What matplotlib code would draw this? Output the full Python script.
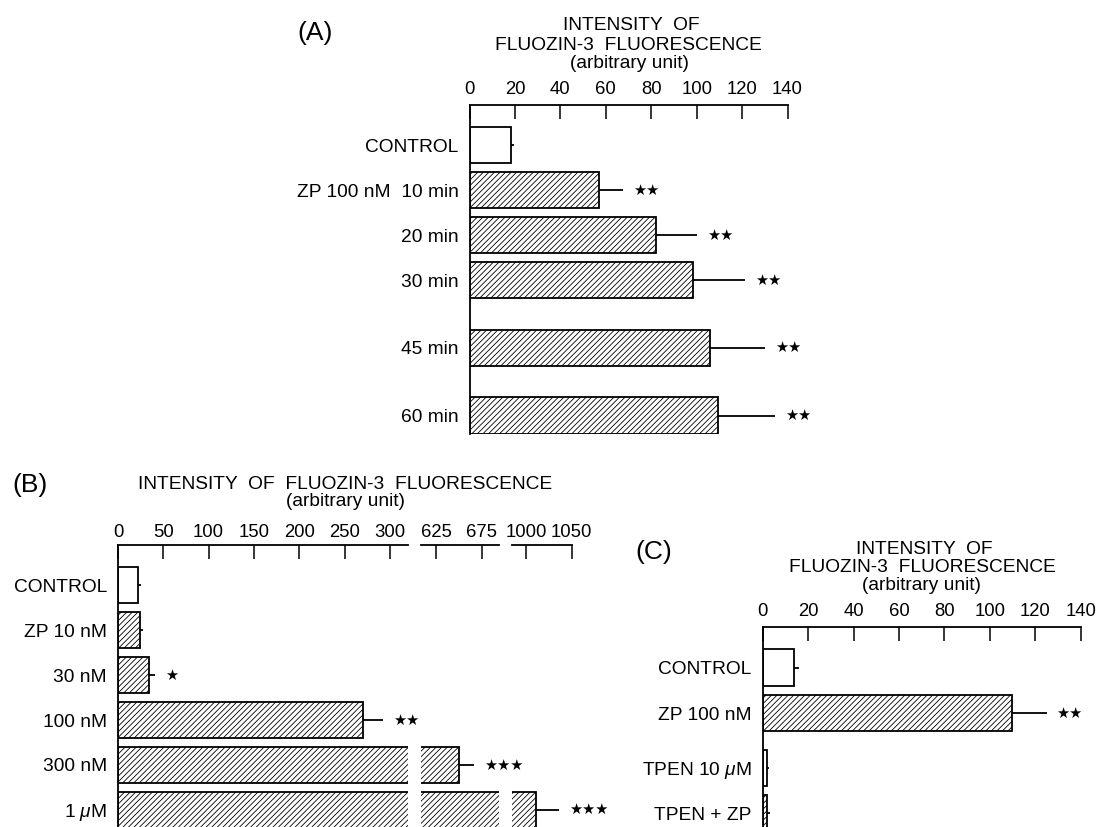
import numpy as np
import matplotlib
matplotlib.use("Agg")
import matplotlib.pyplot as plt

plt.rcParams['font.family'] = ['Liberation Sans', 'DejaVu Sans']
plt.rcParams['mathtext.fontset'] = 'custom'
plt.rcParams['mathtext.rm'] = 'Liberation Sans'
plt.rcParams['mathtext.it'] = 'Liberation Sans:italic'
plt.rcParams['hatch.linewidth'] = 0.6

# ---- data ----
# panel A: time course, ZP 100 nM
a_labels = ['CONTROL', 'ZP 100 nM  10 min', '20 min', '30 min', '45 min', '60 min']
a_pos = [0, 1, 2, 3, 4.5, 6]
a_vals = [18.4, 57.1, 82.1, 98.3, 106.1, 109.3]
a_err = [1.0, 10.6, 18.2, 23.2, 24.2, 25.4]
a_hatch = [False, True, True, True, True, True]
a_stars = ['', '**', '**', '**', '**', '**']
a_ticks = [0, 20, 40, 60, 80, 100, 120, 140]

# panel B: concentration series, broken axis
b_labels = ['CONTROL', 'ZP 10 nM', '30 nM', '100 nM', '300 nM', r'1 $\mu$M']
b_pos = [0, 1, 2, 3, 4, 5]
b_vals = [22, 24.6, 34.6, 270.7, 649.6, 1010.2]
b_err = [3.0, 3.4, 6.2, 22.1, 16.9, 26.0]
b_hatch = [False, True, True, True, True, True]
b_stars = ['', '', '*', '**', '***', '***']
b_segments = [(0, 320), (608, 694), (984, 1050)]
b_ticks = [[0, 50, 100, 150, 200, 250, 300], [625, 675], [1000, 1050]]

# panel C: TPEN
c_labels = ['CONTROL', 'ZP 100 nM', r'TPEN 10 $\mu$M', 'TPEN + ZP']
c_pos = [0, 1, 2.2, 3.2]
c_vals = [13.8, 109.9, 1.8, 1.9]
c_err = [2.2, 15.1, 1.0, 1.1]
c_hatch = [False, True, False, True]
c_stars = ['', '**', '', '']
c_ticks = [0, 20, 40, 60, 80, 100, 120, 140]

W, H = 1099, 827
FS = 13.8      # labels and titles
FS_TICK = 13.3
fig = plt.figure(figsize=(W / 100, H / 100), dpi=100)


def px_axes(x0, x1, y0, y1):
    return fig.add_axes([x0 / W, 1 - y1 / H, (x1 - x0) / W, (y1 - y0) / H])


def ftext(x, y, s, size=FS, ha='center'):
    fig.text(x / W, 1 - y / H, s, ha=ha, va='center', fontsize=size)


def style_axes(ax, left=True, pad=4.5):
    for side in ['bottom', 'right']:
        ax.spines[side].set_visible(False)
    ax.spines['left'].set_visible(left)
    ax.spines['top'].set_linewidth(1.3)
    ax.spines['left'].set_linewidth(1.3)
    ax.xaxis.tick_top()
    ax.tick_params(axis='x', direction='in', length=10, width=1.1,
                   pad=pad, labelsize=FS_TICK)
    ax.tick_params(axis='y', length=0, pad=8, labelsize=FS)
    ax.patch.set_alpha(0)


def draw_bars(ax, pos, vals, err, hatch):
    for p, v, e, h in zip(pos, vals, err, hatch):
        ax.barh(p, v, height=0.8, color='white', edgecolor='black',
                linewidth=1.3, hatch='//////' if h else None, zorder=2)
        ax.errorbar(v, p, xerr=[[0], [e]], fmt='none', ecolor='black',
                    elinewidth=1.3, capsize=0, zorder=1)


def draw_stars(ax, pos, vals, err, stars):
    for p, v, e, s in zip(pos, vals, err, stars):
        if s:
            ax.annotate(s.replace('*', '\u2605'), (v + e, p),
                        xytext=(7, 0), textcoords='offset points',
                        ha='left', va='center', fontsize=10.5,
                        family=['DejaVu Sans'], annotation_clip=False)


# ---- panel A ----
axA = px_axes(469.5, 787.5, 104.5, 434)
draw_bars(axA, a_pos, a_vals, a_err, a_hatch)
draw_stars(axA, a_pos, a_vals, a_err, a_stars)
axA.set_xlim(0, 140)
axA.set_ylim(6.41, -0.9)
axA.set_xticks(a_ticks)
axA.set_yticks(a_pos, a_labels)
style_axes(axA)

ftext(315, 33, '(A)', size=19)
ftext(631, 25, 'INTENSITY  OF')
ftext(628, 45, 'FLUOZIN-3  FLUORESCENCE')
ftext(630, 63, '(arbitrary unit)')

# ---- panel B (broken axis) ----
scale = 0.906  # px per unit
x0 = 118
for i, (lo, hi) in enumerate(b_segments):
    x1 = x0 + (hi - lo) * scale
    ax = px_axes(x0, x1, 544.8, 827)
    draw_bars(ax, b_pos, b_vals, b_err, b_hatch)
    ax.set_xlim(lo, hi)
    ax.set_ylim(5.38, -0.9)
    ax.set_xticks(b_ticks[i])
    if i == 0:
        ax.set_yticks(b_pos, b_labels)
    else:
        ax.set_yticks([])
    style_axes(ax, left=(i == 0), pad=2.5)
    # stars go on the segment where the error bar ends
    sel = [j for j in range(len(b_vals)) if lo <= b_vals[j] + b_err[j] <= hi]
    draw_stars(ax, [b_pos[j] for j in sel], [b_vals[j] for j in sel],
               [b_err[j] for j in sel], [b_stars[j] for j in sel])
    x0 = x1 + 13

ftext(30, 485, '(B)', size=19)
ftext(345, 484.4, 'INTENSITY  OF  FLUOZIN-3  FLUORESCENCE')
ftext(345, 501, '(arbitrary unit)')

# ---- panel C ----
axC = px_axes(762.7, 1080.7, 626.7, 827)
draw_bars(axC, c_pos, c_vals, c_err, c_hatch)
draw_stars(axC, c_pos, c_vals, c_err, c_stars)
axC.set_xlim(0, 140)
axC.set_ylim(3.5, -0.9)
axC.set_xticks(c_ticks)
axC.set_yticks(c_pos, c_labels)
style_axes(axC)

ftext(654, 552, '(C)', size=19)
ftext(924, 549.5, 'INTENSITY  OF')
ftext(922, 567.5, 'FLUOZIN-3  FLUORESCENCE')
ftext(922, 585, '(arbitrary unit)')

fig.savefig('out.png', dpi=100)
